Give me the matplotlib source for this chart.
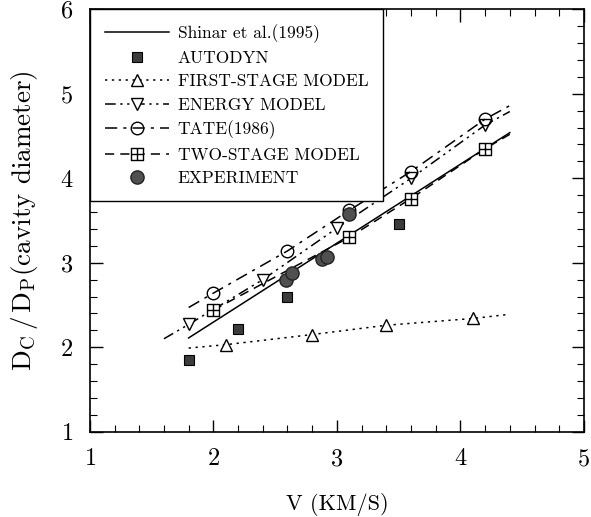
import matplotlib.pyplot as plt
from matplotlib.path import Path

plt.rcParams['font.family'] = 'serif'
plt.rcParams['font.serif'] = ['cmr10']
plt.rcParams['mathtext.fontset'] = 'cm'
plt.rcParams['axes.formatter.use_mathtext'] = True

# Data (V in km/s, D_C/D_P)
shinar_v = [1.8, 4.4]
shinar_d = [2.11, 4.54]

autodyn_v = [1.8, 2.2, 2.6, 3.5]
autodyn_d = [1.85, 2.21, 2.59, 3.46]

first_v = [2.1, 2.8, 3.4, 4.1]
first_d = [2.03, 2.15, 2.26, 2.34]
first_ends_v = [1.8, 4.4]
first_ends_d = [1.99, 2.39]

energy_v = [1.8, 2.4, 3.0, 3.6, 4.2]
energy_d = [2.27, 2.80, 3.41, 4.00, 4.63]
energy_ends_v = [1.6, 4.4]
energy_ends_d = [2.10, 4.79]

tate_v = [2.0, 2.6, 3.1, 3.6, 4.2]
tate_d = [2.64, 3.14, 3.62, 4.08, 4.70]
tate_ends_v = [1.8, 4.4]
tate_ends_d = [2.47, 4.86]

two_v = [2.0, 3.1, 3.6, 4.2]
two_d = [2.44, 3.30, 3.76, 4.35]
two_ends_v = [2.0, 4.4]
two_ends_d = [2.44, 4.52]

exp_v = [2.59, 2.64, 2.88, 2.92, 3.1]
exp_d = [2.79, 2.88, 3.04, 3.07, 3.58]


def with_ends(pts, ends):
    '''puts the line end points around the marker points'''
    return [ends[0]] + list(pts) + [ends[1]]


# square with a cross in it (two-stage marker)
box_cross = Path(
    [(-1, -1), (1, -1), (1, 1), (-1, 1), (-1, -1), (0, -1), (0, 1), (-1, 0), (1, 0)],
    [Path.MOVETO, Path.LINETO, Path.LINETO, Path.LINETO, Path.CLOSEPOLY,
     Path.MOVETO, Path.LINETO, Path.MOVETO, Path.LINETO])

fig = plt.figure(figsize=(5.91, 5.17), dpi=100)
ax = fig.add_axes([0.152, 0.165, 0.836, 0.817])

ax.plot(shinar_v, shinar_d, color='black', lw=1.1, label='Shinar et al.(1995)')

ax.plot(autodyn_v, autodyn_d, ls='none', marker='s', ms=7.5, mfc='#3c3c3c',
        mec='black', mew=0.8, label='AUTODYN')

ax.plot(with_ends(first_v, first_ends_v), with_ends(first_d, first_ends_d),
        color='black', lw=1.1, ls=(0, (1.5, 3)), marker='^', ms=9, mfc='white',
        mec='black', mew=1.0, markevery=list(range(1, len(first_v) + 1)),
        label='FIRST-STAGE MODEL')

ax.plot(with_ends(energy_v, energy_ends_v), with_ends(energy_d, energy_ends_d),
        color='black', lw=1.1, ls=(0, (7, 3, 1.5, 3, 1.5, 3)), marker='v', ms=9,
        mfc='white', mec='black', mew=1.0,
        markevery=list(range(1, len(energy_v) + 1)), label='ENERGY MODEL')

ax.plot(with_ends(tate_v, tate_ends_v), with_ends(tate_d, tate_ends_d),
        color='black', lw=1.1, ls=(0, (8, 4, 2, 4)), marker='o', ms=9,
        mfc='none', mec='black', mew=1.0,
        markevery=list(range(1, len(tate_v) + 1)), label='TATE(1986)')

ax.plot(with_ends(two_v, two_ends_v), with_ends(two_d, two_ends_d),
        color='black', lw=1.1, ls=(0, (6, 4)), marker=box_cross, ms=9,
        mfc='white', mec='black', mew=1.0,
        markevery=list(range(1, len(two_v) + 1)), label='TWO-STAGE MODEL')

ax.plot(exp_v, exp_d, ls='none', marker='o', ms=9.5, mfc='#505050',
        mec='#222222', mew=1.0, label='EXPERIMENT')

ax.set_xlim(1, 5)
ax.set_ylim(1, 6)
ax.set_xticks([1, 2, 3, 4, 5])
ax.set_yticks([1, 2, 3, 4, 5, 6])
ax.set_xticks([1 + 0.2 * i for i in range(21)], minor=True)
ax.set_yticks([1 + 0.2 * i for i in range(26)], minor=True)
ax.tick_params(which='both', direction='in', top=True, right=True, labelsize=17.5, pad=12)
ax.tick_params(which='major', length=9, width=1.0)
ax.tick_params(which='minor', length=5, width=0.8)
for s in ax.spines.values():
    s.set_linewidth(1.2)

ax.set_xlabel('V (KM/S)', fontsize=16, labelpad=16)
ax.set_ylabel(r'$\mathrm{D_C\,/\,D_P}$(cavity diameter)', fontsize=19.5, labelpad=14)

leg = ax.legend(loc='upper left', bbox_to_anchor=(0, 1), borderaxespad=0,
                fancybox=False, framealpha=1, edgecolor='black', fontsize=12.5,
                handlelength=3.7, handletextpad=0.5, labelspacing=0.46,
                borderpad=0.85, numpoints=1)
leg.get_frame().set_linewidth(1.0)

fig.savefig('out.png', dpi=100)
